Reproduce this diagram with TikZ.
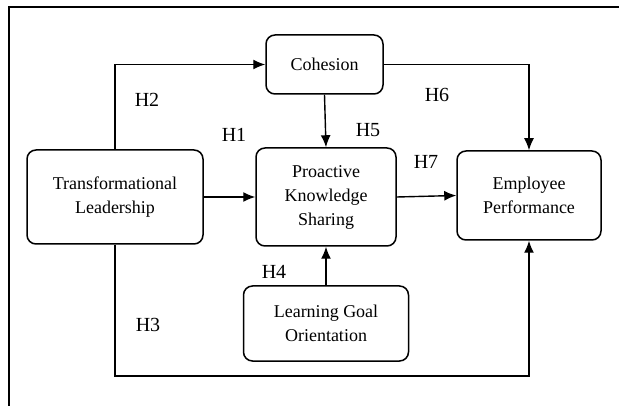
\documentclass[tikz,border=0pt]{standalone}
\usepackage{fontspec}
\setmainfont{Liberation Serif}
\usetikzlibrary{arrows.meta}

\tikzset{
  construct/.style={draw, line width=1.5pt, rounded corners=9pt, align=center,
    inner sep=0pt, font=\fontsize{18}{24}\selectfont},
  link/.style={line width=1.4pt, -{Latex[length=12pt,width=10pt]}},
  hyp/.style={font=\fontsize{20}{22}\selectfont}
}

\begin{document}
\begin{tikzpicture}[x=1pt,y=-1pt]
  \useasboundingbox (0,0) rectangle (619,406);
  % frame
  \draw[line width=1.7pt] (9,406) -- (9,7) -- (619,7);

  % constructs
  \node[construct, minimum width=117pt, minimum height=59pt] (coh) at (324.5,64.5) {Cohesion};
  \node[construct, minimum width=176pt, minimum height=94pt] (tl) at (115,197) {Transformational\\Leadership};
  \node[construct, minimum width=140pt, minimum height=98pt] (pks) at (326,197) {Proactive\\Knowledge\\Sharing};
  \node[construct, minimum width=144pt, minimum height=89pt] (ep) at (529,195.5) {Employee\\Performance};
  \node[construct, minimum width=165pt, minimum height=75pt] (lgo) at (326,323.5) {Learning Goal\\Orientation};

  % paths
  \draw[link] (tl.north) |- (coh.west);
  \draw[link] (coh.east) -| (ep.north);
  \draw[link] (coh.south) -- (pks.north);
  \draw[link] (tl.east) -- (pks.west);
  \draw[link] (pks.east) -- (ep.west);
  \draw[link] (lgo.north) -- (pks.south);
  \coordinate (low) at (115,376);
  \draw[link] (tl.south) -- (low) -| (ep.south);

  % hypotheses
  \node[hyp] (h1) at (234,135) {H1};
  \node[hyp] (h2) at (147,100) {H2};
  \node[hyp] (h3) at (148,325) {H3};
  \node[hyp] (h4) at (274,272) {H4};
  \node[hyp] (h5) at (368,130) {H5};
  \node[hyp] (h6) at (437,95) {H6};
  \node[hyp] (h7) at (426,162) {H7};
\end{tikzpicture}
\end{document}
